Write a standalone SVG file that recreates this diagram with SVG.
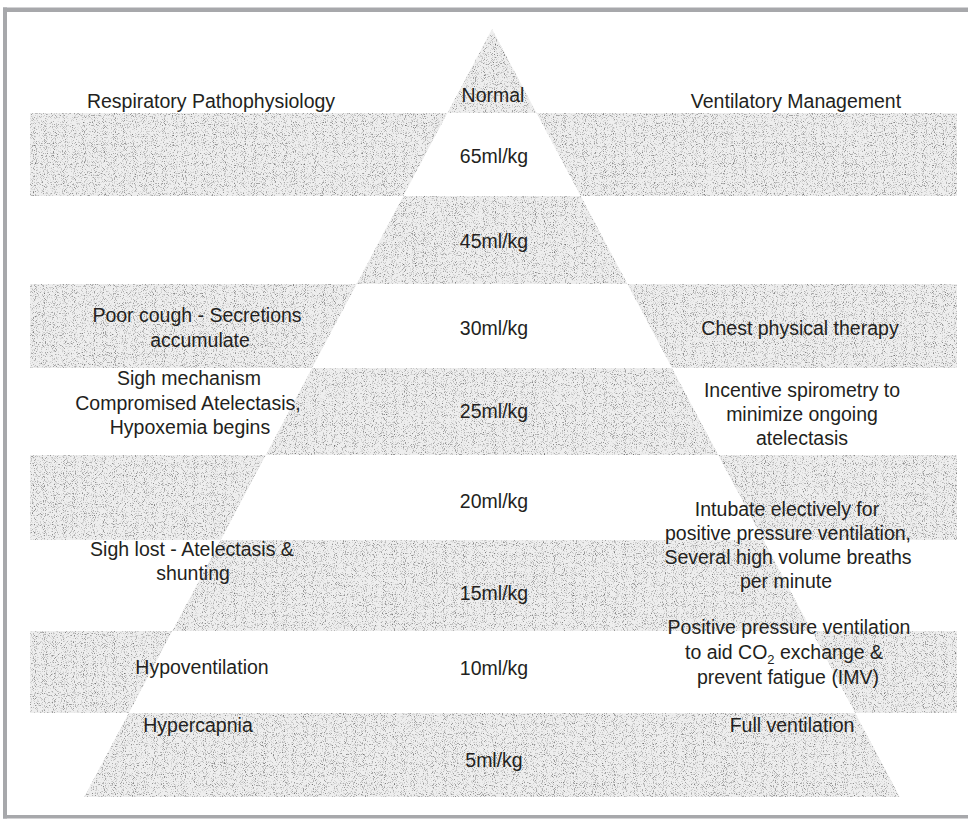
<svg xmlns="http://www.w3.org/2000/svg" width="968" height="819" viewBox="0 0 968 819">
<defs>
<style>
.t{font-family:"Liberation Sans",Arial,sans-serif;font-size:19.5px;fill:#231f20;text-anchor:middle}
.s{fill:#000}
.frame{fill:#a7a8ab}
</style>
<filter id="stip" filterUnits="userSpaceOnUse" x="0" y="0" width="968" height="819" color-interpolation-filters="sRGB">
<feTurbulence type="fractalNoise" baseFrequency="1.1" numOctaves="1" seed="4" result="n"/>
<feColorMatrix in="n" type="matrix" values="0 0 0 0 0.45  0 0 0 0 0.45  0 0 0 0 0.45  3.5 0 0 0 -1.85" result="dots"/>
<feFlood flood-color="#eeeeee" result="bg"/>
<feMerge result="m"><feMergeNode in="bg"/><feMergeNode in="dots"/></feMerge>
<feComposite in="m" in2="SourceAlpha" operator="in"/>
</filter>
</defs>
<rect width="968" height="819" fill="#fff"/>
<g id="frame">
<rect class="frame" x="3" y="7.5" width="965" height="4.5"/>
<rect class="frame" x="3" y="7.5" width="4" height="811"/>
<rect class="frame" x="3" y="815" width="965" height="3.5"/>
</g>
<g id="stipple" filter="url(#stip)">
<polygon class="s" points="492,29 536.6,113 447.4,113"/>
<polygon class="s" points="30,113 447.4,113 403.3,196 30,196"/>
<polygon class="s" points="536.6,113 957,113 957,196 580.7,196"/>
<polygon class="s" points="403.3,196 580.7,196 627.4,284 356.6,284"/>
<polygon class="s" points="30,284 356.6,284 312,368 30,368"/>
<polygon class="s" points="627.4,284 957,284 957,368 672,368"/>
<polygon class="s" points="312,368 672,368 718.2,455 265.8,455"/>
<polygon class="s" points="30,455 265.8,455 220.7,540 30,540"/>
<polygon class="s" points="718.2,455 957,455 957,540 763.3,540"/>
<polygon class="s" points="220.7,540 763.3,540 811.7,631 172.3,631"/>
<polygon class="s" points="30,631 172.3,631 128.8,713 30,713"/>
<polygon class="s" points="811.7,631 957,631 957,713 855.2,713"/>
<polygon class="s" points="128.8,713 855.2,713 899.8,797 84.2,797"/>
</g>
<g id="headers">
<text class="t" x="211" y="108">Respiratory Pathophysiology</text>
<text class="t" x="493" y="102">Normal</text>
<text class="t" x="796" y="108">Ventilatory Management</text>
</g>
<g id="volumes">
<text class="t" x="494" y="163">65ml/kg</text>
<text class="t" x="494" y="248">45ml/kg</text>
<text class="t" x="494" y="335">30ml/kg</text>
<text class="t" x="494" y="418">25ml/kg</text>
<text class="t" x="494" y="508">20ml/kg</text>
<text class="t" x="494" y="600">15ml/kg</text>
<text class="t" x="494" y="675">10ml/kg</text>
<text class="t" x="494" y="767">5ml/kg</text>
</g>
<g id="pathophysiology">
<text class="t" x="197" y="322">Poor cough - Secretions</text>
<text class="t" x="200" y="347">accumulate</text>
<text class="t" x="189" y="385">Sigh mechanism</text>
<text class="t" x="188" y="410">Compromised Atelectasis,</text>
<text class="t" x="190" y="434">Hypoxemia begins</text>
<text class="t" x="192" y="556">Sigh lost - Atelectasis &amp;</text>
<text class="t" x="193" y="580">shunting</text>
<text class="t" x="202" y="674">Hypoventilation</text>
<text class="t" x="198" y="732">Hypercapnia</text>
</g>
<g id="management">
<text class="t" x="800" y="335">Chest physical therapy</text>
<text class="t" x="802" y="397">Incentive spirometry to</text>
<text class="t" x="802" y="421">minimize ongoing</text>
<text class="t" x="802" y="445">atelectasis</text>
<text class="t" x="787" y="516">Intubate electively for</text>
<text class="t" x="788" y="540">positive pressure ventilation,</text>
<text class="t" x="788" y="564">Several high volume breaths</text>
<text class="t" x="786" y="588">per minute</text>
<text class="t" x="789" y="634">Positive pressure ventilation</text>
<text class="t" x="784" y="659">to aid CO<tspan font-size="13" dy="5">2</tspan><tspan dy="-5"> exchange &amp;</tspan></text>
<text class="t" x="788" y="684">prevent fatigue (IMV)</text>
<text class="t" x="792" y="732">Full ventilation</text>
</g>
</svg>
